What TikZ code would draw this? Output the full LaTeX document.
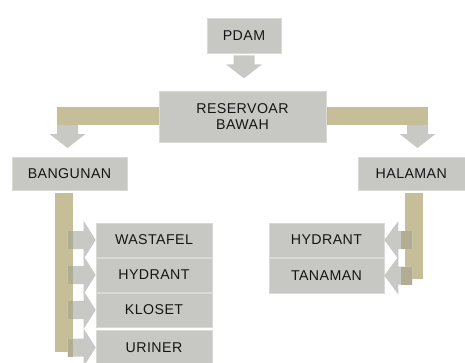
\documentclass[tikz,border=0pt]{standalone}
\usepackage{fontspec}
\setmainfont{Liberation Sans}[LetterSpace=3]
\usetikzlibrary{calc}
\definecolor{boxgray}{HTML}{C7C7C3}
\definecolor{boxedge}{HTML}{D9D9D6}
\definecolor{bartan}{HTML}{C5BE98}
\definecolor{arrowgray}{HTML}{C8C9C5}
\definecolor{overlap}{HTML}{B0AD93}
\definecolor{txt}{HTML}{151515}
\tikzset{
  box/.style={fill=boxgray, draw=boxedge, line width=0.6pt, inner sep=0pt,
    font=\fontsize{14.2}{16.5}\selectfont, text=txt, align=center},
  bar/.style={fill=bartan},
  arrowfill/.style={fill=arrowgray},
  darrow/.pic={\fill[arrowfill] (-10.5,0) -- (10.5,0) -- (10.5,9) -- (18,9) -- (0,23) -- (-18,9) -- (-10.5,9) -- cycle;},
  rarrow/.pic={\fill[arrowfill] (0,-9) -- (16,-9) -- (16,-19) -- (28,0) -- (16,19) -- (16,9) -- (0,9) -- cycle;
               \fill[overlap] (0,-9) rectangle (5,9);},
  larrow/.pic={\fill[arrowfill] (0,-9) -- (-14,-9) -- (-14,-19) -- (-28,0) -- (-14,19) -- (-14,9) -- (0,9) -- cycle;
               \fill[overlap] (0,-9) rectangle (-11,9);}
}
\begin{document}
\begin{tikzpicture}[x=1pt,y=-1pt]
\useasboundingbox (0,0) rectangle (465,362);
\fill[white] (0,0) rectangle (465,362);
% bars
\fill[bar] (57,107) rectangle (160,125);
\fill[bar] (325,107) rectangle (428,125);
\fill[bar] (55,193) rectangle (73,352);
\fill[bar] (405,193) rectangle (423,279);
% boxes
\node[box, minimum width=74pt, minimum height=35pt] (pdam) at (244,35.5) {PDAM};
\node[box, minimum width=167pt, minimum height=51pt] (res) at (242.5,116.5) {RESERVOAR\\BAWAH};
\node[box, minimum width=115pt, minimum height=33pt] (bang) at (69.5,173.5) {BANGUNAN};
\node[box, minimum width=110pt, minimum height=33pt, anchor=west] (hal) at (358,173.5) {\hspace*{-4pt}HALAMAN};
\node[box, minimum width=116pt, minimum height=34pt] (was) at (154,240) {WASTAFEL};
\node[box, minimum width=116pt, minimum height=34pt] (hyl) at (154,275) {HYDRANT};
\node[box, minimum width=116pt, minimum height=34pt] (klo) at (154,310) {KLOSET};
\node[box, minimum width=116pt, minimum height=35pt] (uri) at (154,347.5) {URINER};
\node[box, minimum width=115pt, minimum height=34pt] (hyr) at (326.5,240) {HYDRANT};
\node[box, minimum width=115pt, minimum height=35pt] (tan) at (326.5,275.5) {TANAMAN};
% arrows
\pic at ($(pdam.south)+(0,2)$) {darrow};
\coordinate (lb) at (67.5,125);
\coordinate (rb) at (417.5,125);
\pic at (lb) {darrow};
\pic at (rb) {darrow};
\pic at ($(was.west)+(-28,0)$) {rarrow};
\pic at ($(hyl.west)+(-28,0)$) {rarrow};
\pic at ($(klo.west)+(-28,0)$) {rarrow};
\pic at ($(uri.west)+(-28,0)$) {rarrow};
\pic at ($(hyr.east)+(28,0)$) {larrow};
\pic at ($(tan.east)+(28,0)$) {larrow};
\end{tikzpicture}
\end{document}
